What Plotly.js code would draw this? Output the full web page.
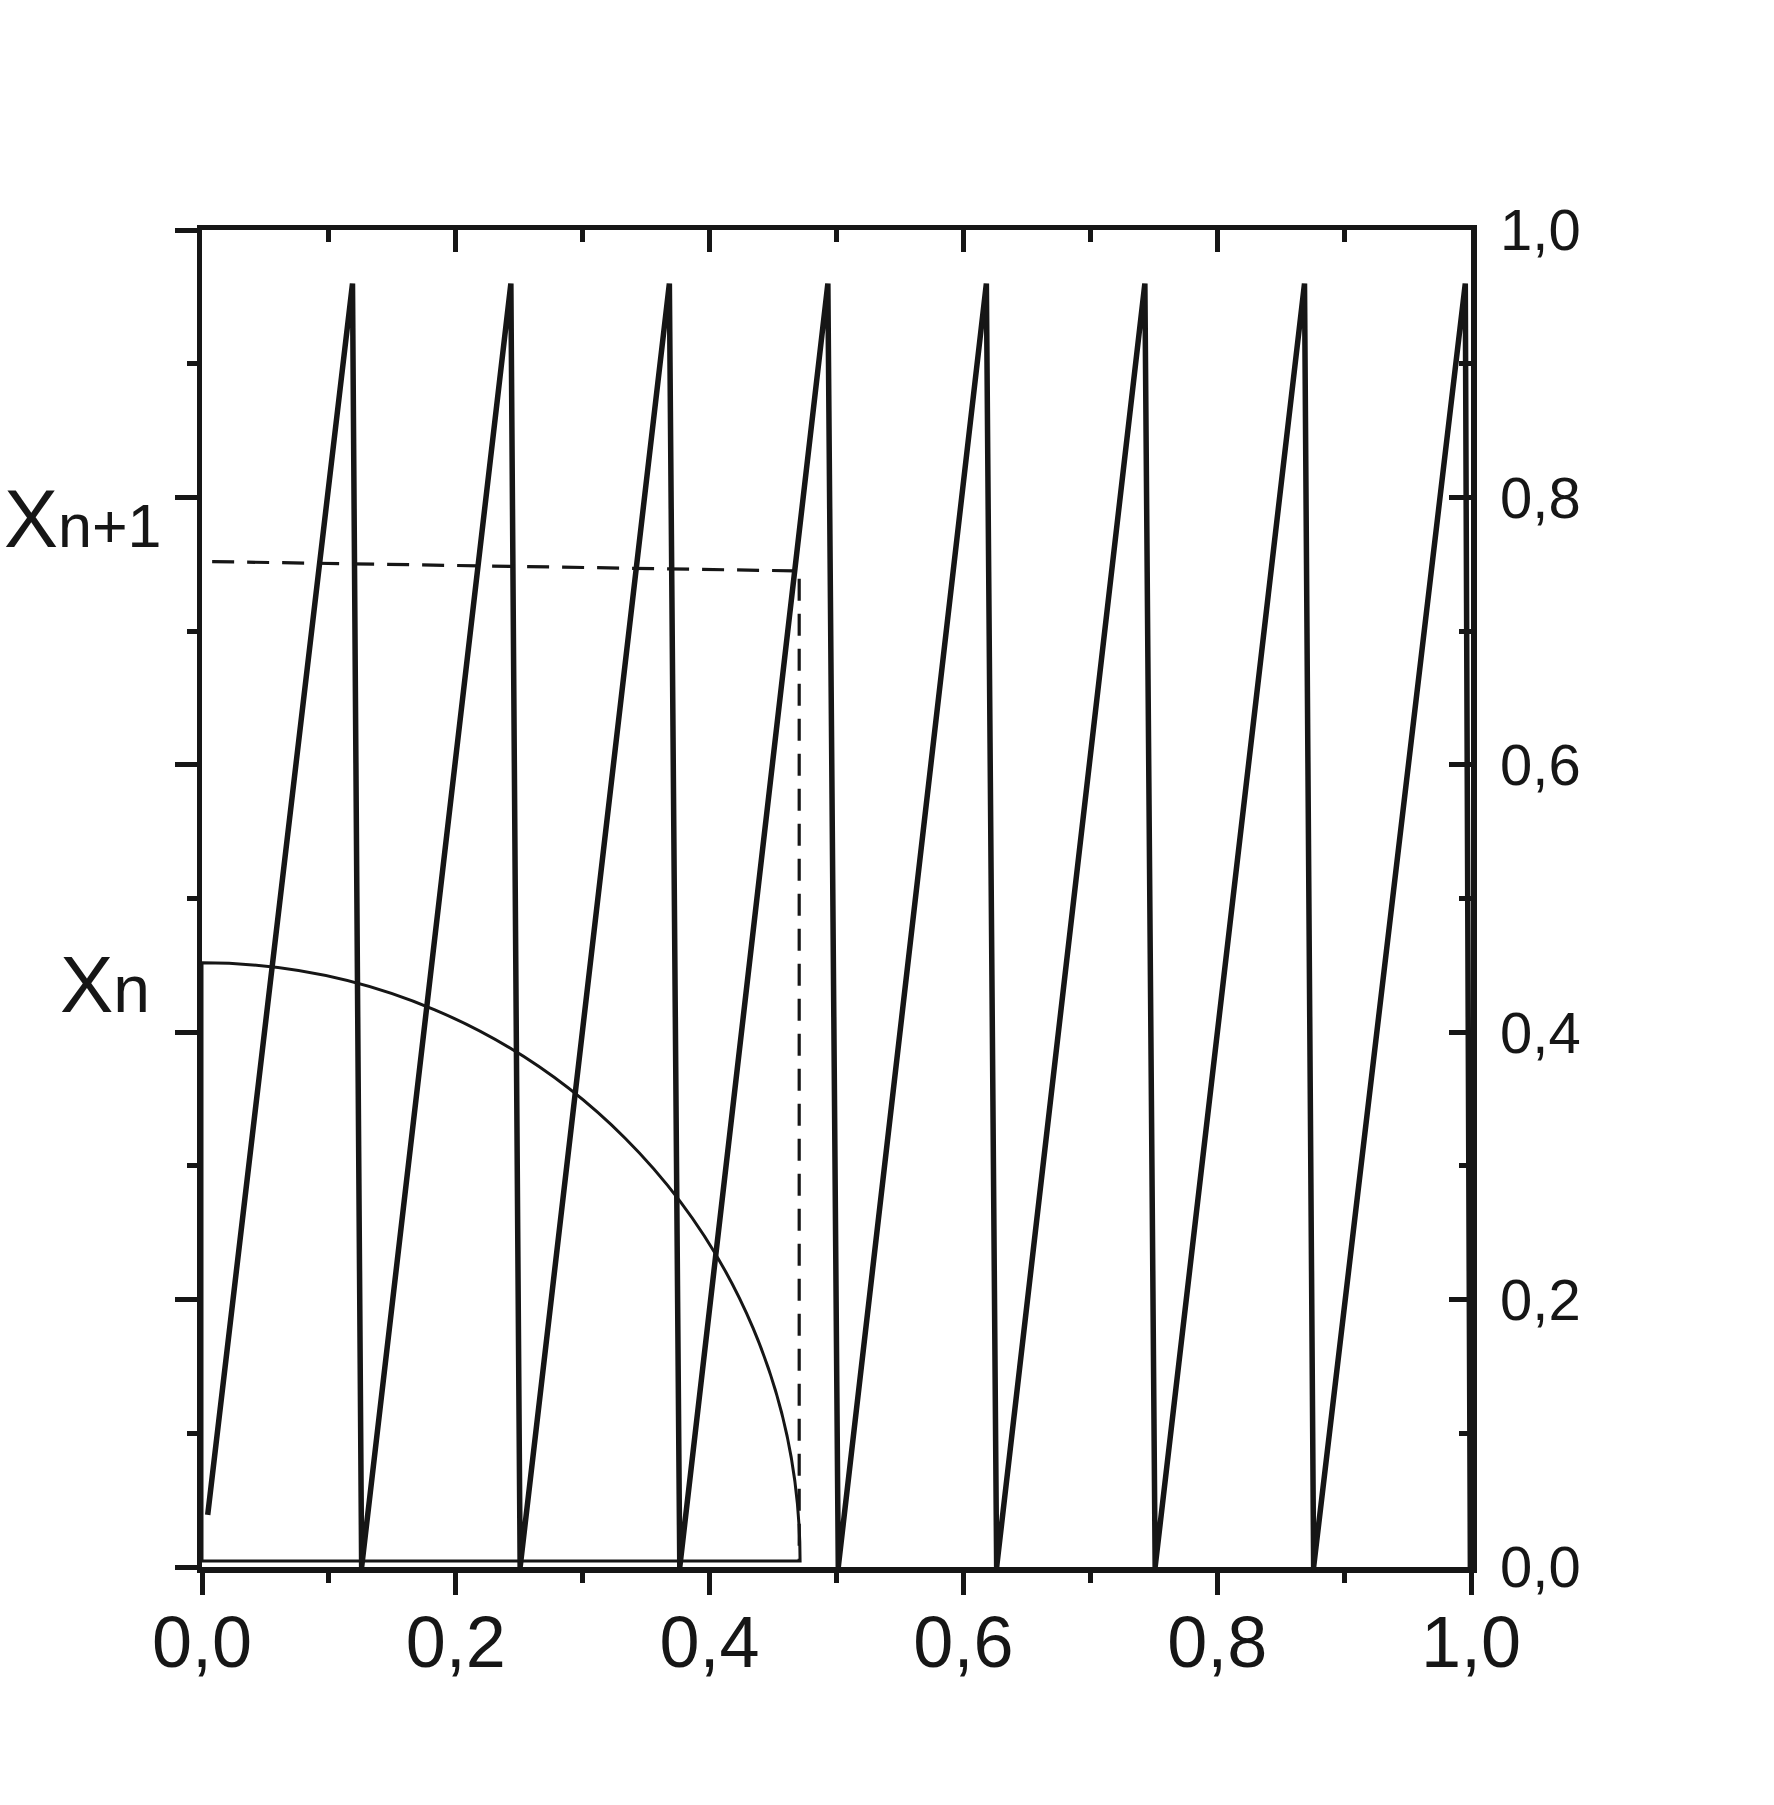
<!DOCTYPE html>
<html>
<head>
<meta charset="utf-8">
<script src="https://cdn.plot.ly/plotly-3.0.1.min.js"></script>
<style>html,body{margin:0;padding:0;background:#fff;}#chart{width:1774px;height:1805px;}</style>
</head>
<body>
<div id="chart"></div>
<script>
// Sawtooth map x(n+1) vs x(n) : vertices
const sawX = [0.0045, 0.1186, 0.1258, 0.2434, 0.2507, 0.3683, 0.3765, 0.4932, 0.5014, 0.6181, 0.6262, 0.7430, 0.7511, 0.8688, 0.8760, 0.9955, 0.9995];
const sawY = [0.039, 0.960, 0.000, 0.960, 0.000, 0.960, 0.000, 0.960, 0.000, 0.960, 0.000, 0.960, 0.000, 0.960, 0.000, 0.960, 0.000];

// Dashed construction line (horizontal then vertical)
const dashX = [0.008, 0.4706, 0.4706];
const dashY = [0.752, 0.745, 0.0045];

// Quarter-circle distribution curve
const arcCenterX = 0.0;
const arcCenterY = 0.0045;
const arcRadiusX = 0.4713;
const arcRadiusY = 0.4474;

// Ticks
const majorTicks = [0, 0.2, 0.4, 0.6, 0.8, 1.0];
const minorTicks = [0.1, 0.3, 0.5, 0.7, 0.9];
const tickLabels = ["0,0", "0,2", "0,4", "0,6", "0,8", "1,0"];

const INK = '#161616';
const FONT = 'Arial, "Liberation Sans", sans-serif';

const k = 0.5523;
const arcPath = 'M ' + arcCenterX + ',' + arcCenterY +
  ' L ' + arcCenterX + ',' + (arcCenterY + arcRadiusY) +
  ' C ' + (arcCenterX + k * arcRadiusX) + ',' + (arcCenterY + arcRadiusY) + ' ' +
  (arcCenterX + arcRadiusX) + ',' + (arcCenterY + k * arcRadiusY) + ' ' +
  (arcCenterX + arcRadiusX) + ',' + arcCenterY + ' Z';

const traces = [
  {x: sawX, y: sawY, type: 'scatter', mode: 'lines',
   line: {color: INK, width: 5.5}, hoverinfo: 'skip'},
  // drawn on the mirrored top/right axes (same [0,1] ranges) so those axes are rendered
  {x: dashX, y: dashY, type: 'scatter', mode: 'lines', xaxis: 'x2', yaxis: 'y2',
   line: {color: INK, width: 3.2, dash: '22px,13px'}, hoverinfo: 'skip'}
];

const baseAxis = {
  range: [0, 1], showgrid: false, zeroline: false,
  showline: true, linecolor: INK, linewidth: 5.5,
  tickmode: 'array', tickvals: majorTicks, ticktext: tickLabels,
  tickcolor: INK, tickwidth: 5, ticklen: 22,
  fixedrange: true
};

const layout = {
  width: 1774, height: 1805,
  margin: {l: 202, r: 303, t: 230, b: 238, pad: 0},
  paper_bgcolor: '#fff', plot_bgcolor: '#fff',
  showlegend: false,
  font: {family: FONT, color: INK},
  xaxis: Object.assign({}, baseAxis, {
    side: 'bottom', ticks: 'outside', ticklabelstandoff: -14,
    tickfont: {family: FONT, size: 72, color: INK},
    minor: {tickvals: minorTicks, ticks: 'outside', ticklen: 10, tickwidth: 5, tickcolor: INK}
  }),
  xaxis2: Object.assign({}, baseAxis, {
    side: 'top', overlaying: 'x', anchor: 'y2', ticks: 'inside', showticklabels: false,
    minor: {tickvals: minorTicks, ticks: 'inside', ticklen: 12, tickwidth: 5, tickcolor: INK}
  }),
  yaxis: Object.assign({}, baseAxis, {
    side: 'left', ticks: 'outside', showticklabels: false,
    minor: {tickvals: minorTicks, ticks: 'outside', ticklen: 10, tickwidth: 5, tickcolor: INK}
  }),
  yaxis2: Object.assign({}, baseAxis, {
    side: 'right', overlaying: 'y', anchor: 'x2', ticks: 'inside', ticklabelstandoff: 12,
    tickfont: {family: FONT, size: 58, color: INK},
    minor: {tickvals: minorTicks, ticks: 'inside', ticklen: 12, tickwidth: 5, tickcolor: INK}
  }),
  shapes: [
    {type: 'path', xref: 'x', yref: 'y', path: arcPath,
     line: {color: INK, width: 3}, fillcolor: 'rgba(0,0,0,0)', layer: 'above'}
  ],
  annotations: [
    {xref: 'paper', yref: 'y', x: -0.1575, y: 0.784, xanchor: 'left', yanchor: 'middle',
     showarrow: false, text: 'X<span style="font-size:61px">n+1</span>',
     font: {family: FONT, size: 81, color: INK}},
    {xref: 'paper', yref: 'y', x: -0.1135, y: 0.436, xanchor: 'left', yanchor: 'middle',
     showarrow: false, text: 'X<span style="font-size:66px">n</span>',
     font: {family: FONT, size: 80, color: INK}}
  ]
};

Plotly.newPlot('chart', traces, layout, {staticPlot: true, displayModeBar: false});
</script>
</body>
</html>
